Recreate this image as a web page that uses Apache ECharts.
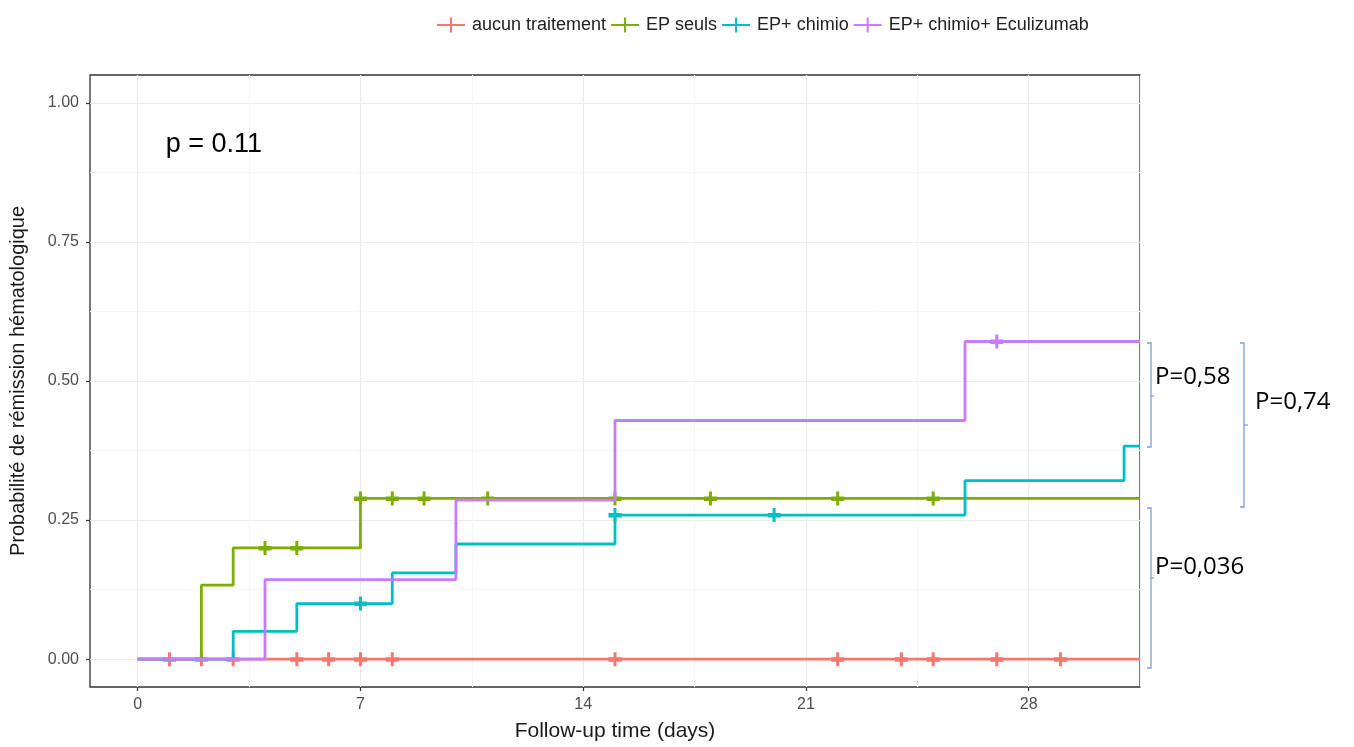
<!DOCTYPE html>
<html>
<head>
<meta charset="utf-8">
<script src="https://cdn.jsdelivr.net/npm/echarts@6/dist/echarts.min.js"></script>
<style>
html,body{margin:0;padding:0;background:#fff;}
#chart{width:1354px;height:747px;}
</style>
</head>
<body>
<div id="chart"></div>
<script>
// ---- data ----
const groups = ['aucun traitement', 'EP seuls', 'EP+ chimio', 'EP+ chimio+ Eculizumab'];
const colors = ['#F8766D', '#7CAE00', '#00BFC4', '#C77CFF'];

const aucunTimes = [0];
const aucunSurv = [0];
const aucunCens = [1, 2, 3, 5, 6, 7, 8, 15, 22, 24, 25, 27, 29];

const epTimes = [0, 2, 3, 7];
const epSurv = [0, 0.133, 0.2, 0.289];
const epCens = [4, 5, 7, 8, 9, 11, 15, 18, 22, 25];

const chimioTimes = [0, 3, 5, 8, 10, 15, 26, 31];
const chimioSurv = [0, 0.05, 0.1, 0.155, 0.207, 0.259, 0.321, 0.383];
const chimioCens = [7, 15, 20];

const eculiTimes = [0, 4, 10, 15, 26];
const eculiSurv = [0, 0.143, 0.286, 0.429, 0.571];
const eculiCens = [27];

const lastFollowUp = 31.5;

const xTicks = [0, 7, 14, 21, 28];
const xMinor = [3.5, 10.5, 17.5, 24.5, 31.5];
const yTicks = [0, 0.25, 0.5, 0.75, 1];
const yMinor = [0.125, 0.375, 0.625, 0.875];

const pText = 'p = 0.11';
const pairTexts = ['P=0,58', 'P=0,74', 'P=0,036'];

// ---- build ----
const curves = [
  [aucunTimes, aucunSurv, aucunCens],
  [epTimes, epSurv, epCens],
  [chimioTimes, chimioSurv, chimioCens],
  [eculiTimes, eculiSurv, eculiCens]
];
function survAt(times, surv, t) {
  let v = surv[0];
  for (let i = 0; i < times.length; i++) if (times[i] <= t) v = surv[i];
  return v;
}
const plusPath = 'path://M0,5h14v4.5h-14z M5.4,0h3.2v14h-3.2z';
const legendIcon = 'path://M0,6.5h28v2h-28z M13,0h2v15h-2z';

const series = [];
curves.forEach((c, i) => {
  const [times, surv] = c;
  const data = times.map((t, k) => [t, surv[k]]);
  data.push([lastFollowUp, surv[surv.length - 1]]);
  series.push({
    name: groups[i], type: 'line', step: 'end', data: data,
    symbol: 'none', color: colors[i],
    lineStyle: {width: 2.8, color: colors[i]},
    itemStyle: {color: colors[i]},
    silent: true, clip: true
  });
});
curves.forEach((c, i) => {
  const [times, surv, cens] = c;
  series.push({
    name: groups[i] + ' censure', type: 'scatter',
    data: cens.map(t => [t, survAt(times, surv, t)]),
    symbol: plusPath, symbolSize: [13, 14],
    itemStyle: {color: colors[i], opacity: 1},
    silent: true
  });
});

const titleFont = 'Liberation Sans, Arial, sans-serif';
const chart = echarts.init(document.getElementById('chart'), null, {renderer: 'canvas'});
const option = {
  animation: false,
  backgroundColor: '#ffffff',
  color: colors,
  legend: {
    data: groups.map(g => ({name: g, icon: legendIcon})),
    left: 432, top: 11,
    itemWidth: 28, itemHeight: 15, itemGap: 5,
    textStyle: {fontSize: 18, color: '#222', fontFamily: titleFont, padding: [0, 0, 0, 2]}
  },
  grid: {left: 87, right: 214, top: 75, bottom: 60, show: true, borderColor: '#333', borderWidth: 1.3, backgroundColor: 'transparent'},
  xAxis: [{
    type: 'value', min: -1.5, max: lastFollowUp,
    name: 'Follow-up time (days)', nameLocation: 'middle', nameGap: 34,
    nameTextStyle: {fontSize: 21, color: '#1a1a1a', fontFamily: titleFont},
    axisLine: {show: false, onZero: false},
    axisTick: {show: true, customValues: xTicks, length: 4, lineStyle: {color: '#333', width: 1.2}},
    axisLabel: {customValues: xTicks, fontSize: 16, color: '#4d4d4d', margin: 10, fontFamily: titleFont},
    splitLine: {show: true, lineStyle: {color: '#ebebeb', width: 1.2}}
  }, {
    type: 'value', min: -1.5, max: lastFollowUp, position: 'bottom',
    axisLine: {show: false, onZero: false},
    axisTick: {show: false, customValues: xMinor},
    axisLabel: {show: false, customValues: xMinor},
    splitLine: {show: true, lineStyle: {color: '#f6f6f6', width: 1}}
  }],
  yAxis: [{
    type: 'value', min: -0.05, max: 1.05,
    name: 'Probabilité de rémission hématologique', nameLocation: 'middle', nameGap: 62, nameRotate: 90,
    nameTextStyle: {fontSize: 20, color: '#1a1a1a', fontFamily: titleFont},
    axisLine: {show: false, onZero: false},
    axisTick: {show: true, customValues: yTicks, length: 4, lineStyle: {color: '#333', width: 1.2}},
    axisLabel: {customValues: yTicks, fontSize: 16, color: '#4d4d4d', margin: 11, fontFamily: titleFont,
      formatter: v => Number(v).toFixed(2)},
    splitLine: {show: true, lineStyle: {color: '#ebebeb', width: 1.2}}
  }, {
    type: 'value', min: -0.05, max: 1.05, position: 'left',
    axisLine: {show: false, onZero: false},
    axisTick: {show: false, customValues: yMinor},
    axisLabel: {show: false, customValues: yMinor},
    splitLine: {show: true, lineStyle: {color: '#f6f6f6', width: 1}}
  }],
  series: series
};
chart.setOption(option);

// annotations
const pPos = chart.convertToPixel({gridIndex: 0}, [0.88, 0.925]);
const bracketColor = '#7b9fdc';
function bracket(xTip, xBar, y1, y2, yMid, xMid) {
  return [{
    type: 'polyline', silent: true,
    shape: {points: [[xTip, y1], [xBar, y1], [xBar, y2], [xTip, y2]]},
    style: {stroke: bracketColor, lineWidth: 1.3, fill: null}
  }, {
    type: 'line', silent: true,
    shape: {x1: xBar, y1: yMid, x2: xMid, y2: yMid},
    style: {stroke: bracketColor, lineWidth: 1.3}
  }];
}
const annFont = '24px "Open Sans", Lato, sans-serif';
chart.setOption({
  graphic: [
    {type: 'text', silent: true, x: pPos[0], y: pPos[1],
      style: {text: pText, font: '27px "Liberation Sans", Arial, sans-serif', fill: '#000', verticalAlign: 'middle', align: 'left'}},
    ...bracket(1147, 1151, 343, 447, 396, 1154),
    ...bracket(1240, 1244, 343, 507, 425, 1248),
    ...bracket(1147, 1151, 508, 668, 578, 1154),
    {type: 'text', silent: true, x: 1155, y: 377, style: {text: pairTexts[0], font: annFont, fill: '#000', verticalAlign: 'middle'}},
    {type: 'text', silent: true, x: 1255, y: 402, style: {text: pairTexts[1], font: annFont, fill: '#000', verticalAlign: 'middle'}},
    {type: 'text', silent: true, x: 1155, y: 567, style: {text: pairTexts[2], font: annFont, fill: '#000', verticalAlign: 'middle'}}
  ]
});
</script>
</body>
</html>
